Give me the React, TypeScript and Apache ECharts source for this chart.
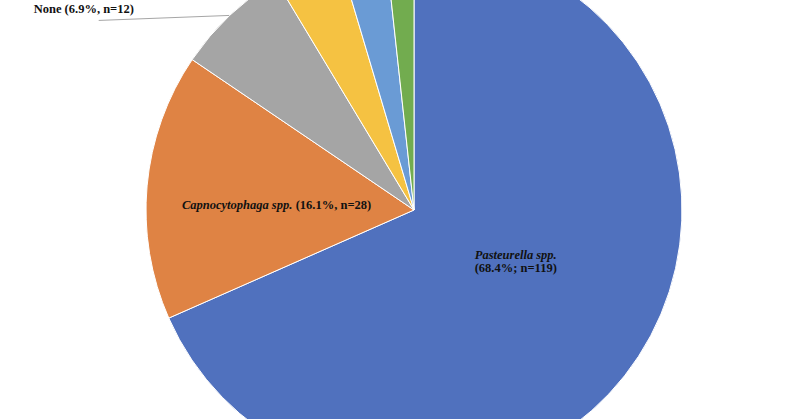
import React, { useEffect, useRef } from "react";
import * as echarts from "echarts";

const categories = [
  "Pasteurella spp.",
  "Capnocytophaga spp.",
  "None",
  "Other A",
  "Other B",
  "Other C",
];
const counts = [119, 28, 12, 7, 5, 3];
const colors = ["#5071be", "#df8344", "#a5a5a5", "#f5c242", "#6a9bd5", "#72ac4f"];

const total = counts.reduce((a, b) => a + b, 0);
const pct = (v: number) => ((v / total) * 100).toFixed(1) + "%";

const App: React.FC = () => {
  const chartRef = useRef<HTMLDivElement>(null);

  useEffect(() => {
    if (!chartRef.current) return;
    const chart = echarts.init(chartRef.current, null, { renderer: "svg" });

    const labelText = (i: number) => {
      const name = categories[i];
      const n = counts[i];
      if (i === 0) return `{i|${name}}\n{b|(${pct(n)}; n=${n})}`;
      if (i === 1) return `{i|${name}} {b|(${pct(n)}, n=${n})}`;
      return `{b|${name} (${pct(n)}, n=${n})}`;
    };

    const rich = {
      i: {
        fontFamily: "Liberation Serif",
        fontStyle: "italic",
        fontWeight: "bold",
        fontSize: 12.5,
        color: "#111",
        lineHeight: 13,
      },
      b: {
        fontFamily: "Liberation Serif",
        fontWeight: "bold",
        fontSize: 12.5,
        color: "#111",
        lineHeight: 13,
      },
    };

    const data = categories.map((name, i) => ({
      name,
      value: counts[i],
      itemStyle: { color: colors[i] },
      label:
        i < 2
          ? { show: true, position: "inside", formatter: labelText(i), rich }
          : i === 2
          ? { show: true, position: "outside", formatter: labelText(i), rich }
          : { show: false },
      labelLine:
        i === 2
          ? { show: true, length: 0, length2: 131, lineStyle: { color: "#a6a6a6", width: 1 } }
          : { show: false },
    }));

    chart.setOption({
      animation: false,
      backgroundColor: "#ffffff",
      series: [
        {
          type: "pie",
          center: [414, 210],
          radius: 268,
          startAngle: 90,
          clockwise: true,
          avoidLabelOverlap: false,
          itemStyle: { borderColor: "#ffffff", borderWidth: 1 },
          labelLayout: (params: any) => {
            if (params.dataIndex === 0) return { dx: -13, dy: -23 };
            if (params.dataIndex === 1) return { dx: -1, dy: 7 };
            if (params.dataIndex === 2 && params.labelLinePoints) {
              const p0 = params.labelLinePoints[0];
              return {
                x: p0[0] - 196,
                y: p0[1] - 6,
                align: "left",
                verticalAlign: "middle",
                labelLinePoints: [p0, p0, [p0[0] - 131, p0[1] + 5]],
              };
            }
            return {};
          },
          data,
        },
      ],
    });

    return () => {
      chart.dispose();
    };
  }, []);

  return (
    <div
      ref={chartRef}
      style={{ position: "fixed", left: 0, top: 0, width: "800px", height: "419px" }}
    />
  );
};

export default App;
